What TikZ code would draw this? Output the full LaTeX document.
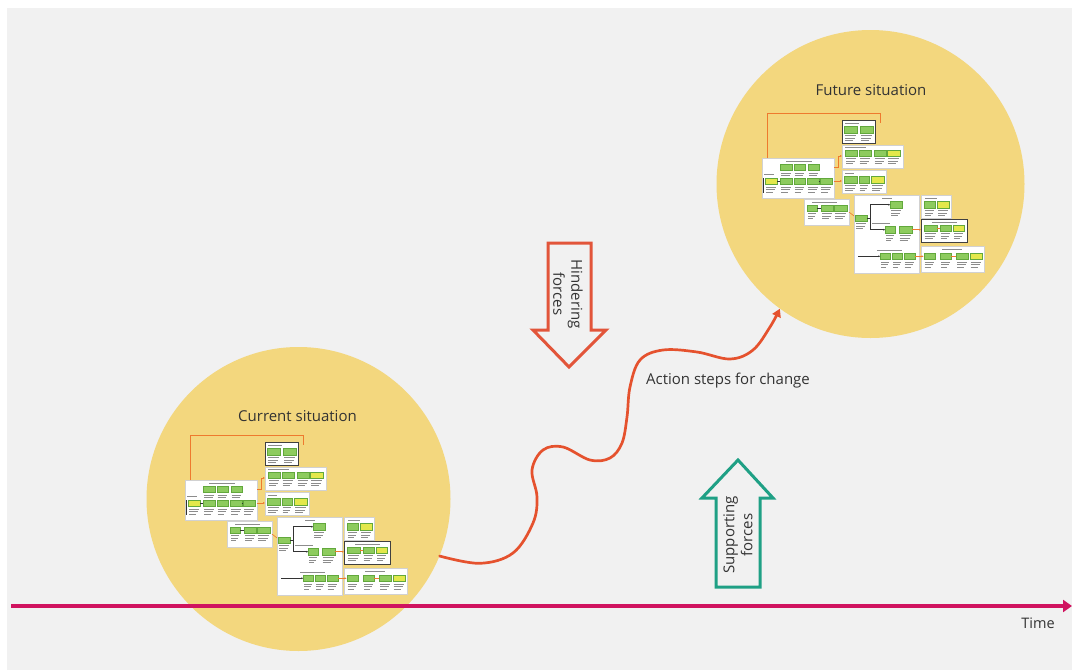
\documentclass[tikz,border=0pt]{standalone}
\usepackage{fontspec}
\setmainfont{Open Sans}
\usetikzlibrary{arrows.meta}

\definecolor{panel}{HTML}{F1F1F1}
\definecolor{sun}{HTML}{F3D77E}
\definecolor{timeline}{HTML}{D0135F}
\definecolor{hinder}{HTML}{E2553A}
\definecolor{support}{HTML}{1FA085}
\definecolor{waycol}{HTML}{E5522E}
\definecolor{ink}{HTML}{333333}
\definecolor{cellg}{HTML}{8DCB5E}
\definecolor{cellgd}{HTML}{62A83C}
\definecolor{celly}{HTML}{E3E84B}
\definecolor{wire}{HTML}{EE7A2E}

\tikzset{
  mbox/.style={draw=black!18, fill=white, line width=0.4pt},
  mboxd/.style={draw=black!75, fill=white, line width=0.9pt},
  gcell/.style={draw=cellgd, fill=cellg, line width=0.3pt},
  ycell/.style={draw=cellgd, fill=celly, line width=0.3pt},
  note/.style={draw=black!45, line width=0.5pt},
  wirel/.style={draw=wire, line width=0.6pt},
  blk/.style={draw=black!80, line width=0.8pt},
  txt/.style={text=ink, font=\fontsize{15}{18}\selectfont, inner sep=0pt},
  bigarrow/.style={line width=3pt, line join=miter},
}

% one process step: coloured cell with a few lines of small text beneath
\newcommand\mcell[4][gcell]{%
  \draw[#1] (#2,#3) rectangle (#4,#3+6.5);
  \draw[note] (#2+1,#3+9) -- (#4-1,#3+9);
  \draw[note] (#2+1,#3+11.5) -- (#4-2,#3+11.5);
  \draw[note] (#2+1,#3+14) -- (#4-4,#3+14);
}

% miniature process map, origin at the top-left of its main block
\newcommand\flowmap[2]{%
\begin{scope}[shift={(#1,#2)}]
  % feedback wire
  \draw[wirel] (5,0) -- (5,-45) -- (118,-45) -- (118,-35);
  % blocks
  \draw[mbox]  (0,0) rectangle (72,40);
  \draw[mboxd] (80,-38) rectangle (113,-15);
  \draw[mbox]  (80,-13) rectangle (141,10);
  \draw[mbox]  (80,12) rectangle (124,35);
  \draw[mbox]  (42,41) rectangle (87,67);
  \draw[mbox]  (92,37) rectangle (157,115);
  \draw[mbox]  (159,37) rectangle (189,60);
  \draw[mboxd] (159,61) rectangle (205,84);
  \draw[mbox]  (159,88) rectangle (222,114);
  % block titles
  \draw[note] (24,3) -- (50,3);
  \draw[note] (83,-35) -- (97,-35);
  \draw[note] (83,-11) -- (104,-11);
  \draw[note] (83,15) -- (92,15);
  \draw[note] (50,44) -- (75,44);
  \draw[note] (120,40) -- (130,40);
  \draw[note] (110,65) -- (128,65);
  \draw[note] (115,92) -- (140,92);
  \draw[note] (163,40) -- (175,40);
  \draw[note] (170,64) -- (195,64);
  \draw[note] (180,91) -- (200,91);
  \draw[note] (2,16) -- (12,16);
  % main block
  \mcell{18.3}{6}{30} \mcell{31.7}{6}{43.3} \mcell{45.7}{6}{56.7}
  \mcell[ycell]{3.3}{20}{15} \mcell{18.3}{20}{30} \mcell{31.7}{20}{43.3}
  \mcell{45}{20}{56.7} \mcell{58.3}{20}{70}
  \draw[blk] (1.7,20) -- (1.7,35);
  \draw[blk] (15,23) -- (18.3,23);
  \draw[blk] (56.7,23) -- (58.3,23);
  % upper side blocks
  \mcell{81.7}{-31.7}{95} \mcell{98.3}{-31.7}{111}
  \mcell{83.3}{-8.3}{95} \mcell{96.7}{-8.3}{109} \mcell{111.7}{-8.3}{124.3}
  \mcell[ycell]{125}{-8.3}{137.7}
  \mcell{81.7}{18.3}{95} \mcell{96.7}{18.3}{106.7} \mcell[ycell]{109}{18.3}{121.7}
  % lower-left block
  \mcell{45}{46.7}{55} \mcell{59}{46.7}{71} \mcell{72.3}{46.7}{85}
  \draw[blk] (55,50) -- (59,50);
  % branching block
  \mcell{128.3}{43.3}{140}
  \mcell{93.3}{56.7}{105}
  \mcell{123.3}{68.3}{133.3} \mcell{136.7}{68.3}{150}
  \mcell{118.3}{95}{128.3} \mcell{130}{95}{140} \mcell{141.7}{95}{153.3}
  \draw[blk] (105,60) -- (108.3,60);
  \draw[blk] (108.3,46.7) -- (108.3,71.7);
  \draw[blk,-{Latex[length=2pt,width=2pt]}] (108.3,46.7) -- (128.3,46.7);
  \draw[blk,-{Latex[length=2pt,width=2pt]}] (108.3,71.7) -- (123.3,71.7);
  \draw[blk,-{Latex[length=2pt,width=2pt]}] (96,98.3) -- (118.3,98.3);
  % right-hand blocks
  \mcell{161.7}{43.3}{173.3} \mcell[ycell]{175}{43.3}{186.7}
  \mcell{161.7}{66.7}{175} \mcell{177.7}{66.7}{189} \mcell[ycell]{191}{66.7}{201.7}
  \mcell{161.7}{95}{173.3} \mcell{178.3}{95}{189} \mcell{194.3}{95}{205.7}
  \mcell[ycell]{207.7}{95}{220}
  % hand-over wires
  \draw[wirel,-{Latex[length=2pt,width=2pt]}] (72,9) -- (76,9) -- (76,-2) -- (80,-2);
  \draw[wirel,-{Latex[length=2pt,width=2pt]}] (72,23) -- (80,23);
  \draw[wirel] (87,54) -- (92,58);
  \draw[wirel,-{Latex[length=2pt,width=2pt]}] (150,71.7) -- (159,71.7);
  \draw[wirel,-{Latex[length=2pt,width=2pt]}] (153.3,98.3) -- (161.7,98.3);
  \draw[wirel] (175,70) -- (177.7,70);
  \draw[wirel] (189,98.3) -- (194.3,98.3);
\end{scope}}

\begin{document}
\begin{tikzpicture}[x=1pt, y=-1pt]
  \useasboundingbox (0,0) rectangle (1072,670);
  \fill[white] (0,0) rectangle (1072,670);
  \fill[panel] (7,8) rectangle (1072,670);

  % the two situations
  \node[circle, fill=sun, minimum size=304pt, inner sep=0pt] (cur) at (298.5,499) {};
  \node[circle, fill=sun, minimum size=308pt, inner sep=0pt] (fut) at (870.5,184) {};

  % time axis
  \coordinate (tstart) at (11,606);
  \coordinate (tend) at (1072,606);
  \draw[timeline, line width=4.5pt, -{Triangle[length=9pt,width=12pt]}] (tstart) -- (tend);
  \node[txt, font=\fontsize{14.5}{17}\selectfont] (time) at (1038,623) {Time};

  % process maps inside the circles
  \flowmap{185}{480}
  \flowmap{762}{158}

  \node[txt] (curlbl) at (297.5,416) {Current situation};
  \node[txt] (futlbl) at (871,90) {Future situation};

  % hindering forces
  \draw[hinder, bigarrow] (548,243) -- (591,243) -- (591,330) -- (606,330)
        -- (569,367) -- (533,330) -- (548,330) -- cycle;
  \node[txt, rotate=-90, align=center] (hindlbl) at (568,294) {Hindering\\forces};

  % supporting forces
  \draw[support, bigarrow] (716,587) -- (760,587) -- (760,498) -- (773,498)
        -- (738,460) -- (702,498) -- (716,498) -- cycle;
  \node[txt, rotate=90, align=center] (supplbl) at (738,535) {Supporting\\forces};

  % path of change
  \draw[waycol, line width=2.7pt, line cap=round, -{Triangle[length=8pt,width=9pt]}]
    plot[smooth, tension=0.6] coordinates {(cur.-22) (480,563.3) (513,553) (533,523)
      (537,497) (532,470) (543,450) (563,447) (590,460) (610,458) (622,443)
      (627,417) (630,387) (640,360) (663,350) (697,352) (730,359) (753,350)
      (770,327) (fut.234.6)};
  \node[txt] (actlbl) at (728,381) {Action steps for change};
\end{tikzpicture}
\end{document}
